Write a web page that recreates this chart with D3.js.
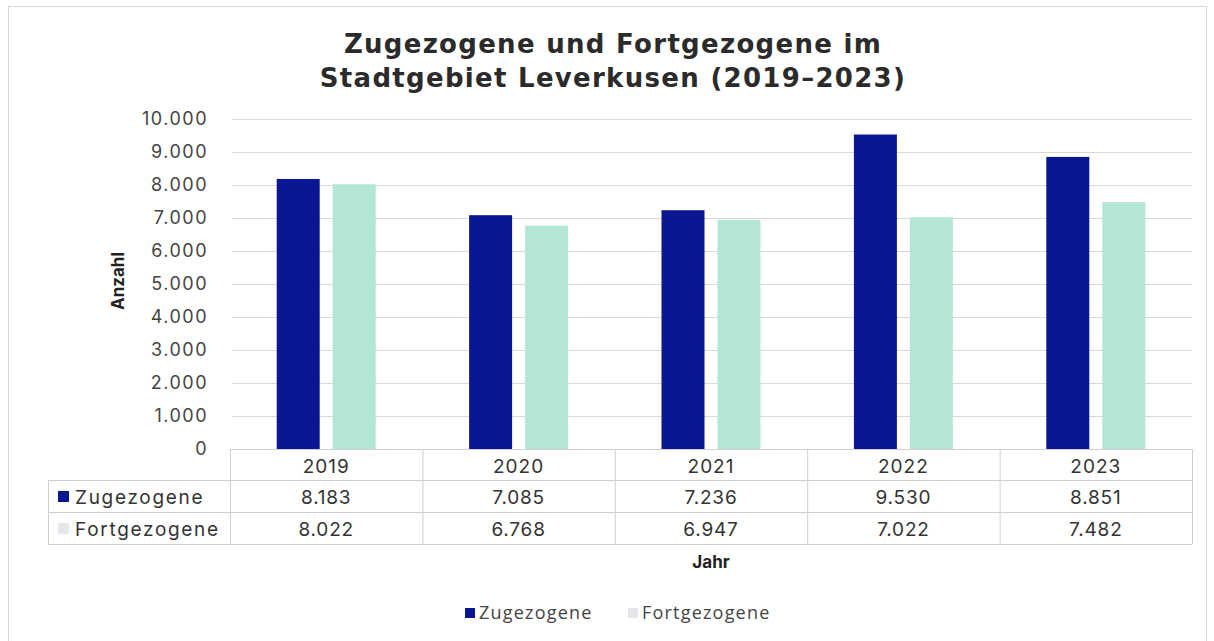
<!DOCTYPE html>
<html>
<head>
<meta charset="utf-8">
<script src="https://cdn.jsdelivr.net/npm/d3@7"></script>
<style>
body { margin:0; background:#fff; }
text { font-family: "Inter", "Noto Sans", sans-serif; }
</style>
</head>
<body>
<svg></svg>
<script>
var screen = {width:1214, height:641}
var margins = {top:119, right:22, left:230, bottom:192}

var years = ["2019", "2020", "2021", "2022", "2023"]
var zugezogene = [8183, 7085, 7236, 9530, 8851]
var fortgezogene = [8022, 6768, 6947, 7022, 7482]
var yTicks = [0, 1000, 2000, 3000, 4000, 5000, 6000, 7000, 8000, 9000, 10000]
var seriesNames = ["Zugezogene", "Fortgezogene"]
var colors = ["#0b1691", "#b3e6d7"]

var fmt = function(v) {
    return d3.format(",")(v).replace(/,/g, ".")
}

var svg = d3.select("svg")
    .attr("width", screen.width)
    .attr("height", screen.height)

// frame
svg.append("rect")
    .attr("x", 8.5).attr("y", 6.5)
    .attr("width", 1198).attr("height", 640)
    .attr("fill", "none")
    .attr("stroke", "#d6d6d6")

// title
var title = svg.append("text")
    .attr("text-anchor", "middle")
    .attr("font-size", 26)
    .attr("font-weight", "bold")
    .attr("letter-spacing", 1.3)
    .style("font-family", "'DejaVu Sans', sans-serif")
    .attr("fill", "#2b2b2b")
title.append("tspan").attr("x", 613).attr("y", 53).text("Zugezogene und Fortgezogene im")
title.append("tspan").attr("x", 613).attr("y", 87).text("Stadtgebiet Leverkusen (2019–2023)")

var plotW = screen.width - margins.left - margins.right
var plotBottom = 449

var x = d3.scaleBand()
    .domain(years)
    .range([margins.left, margins.left + plotW])

var y = d3.scaleLinear()
    .domain([0, 10000])
    .range([plotBottom, margins.top])

// gridlines
svg.append("g")
    .selectAll("line")
    .data(yTicks)
    .enter()
    .append("line")
    .attr("x1", margins.left + 2)
    .attr("x2", margins.left + plotW)
    .attr("y1", function(d){ return y(d) + 0.5 })
    .attr("y2", function(d){ return y(d) + 0.5 })
    .attr("stroke", "#d9d9d9")

// y axis labels
var yAxis = svg.append("g")
    .attr("transform", "translate(" + (margins.left - 22) + ",0)")
    .call(d3.axisLeft(y).tickValues(yTicks).tickFormat(fmt).tickSize(0).tickPadding(0))
yAxis.select(".domain").remove()
yAxis.selectAll("text")
    .attr("font-size", 18)
    .attr("letter-spacing", 1.5)
    .attr("fill", "#444")
    .style("font-family", "Inter, sans-serif")

svg.append("text")
    .attr("transform", "translate(124,281) rotate(-90)")
    .attr("text-anchor", "middle")
    .attr("font-size", 17)
    .attr("font-weight", "bold")
    .attr("fill", "#222")
    .text("Anzahl")

// bars
var barW = 43
var gap = 13
var series = [zugezogene, fortgezogene]
series.forEach(function(vals, s) {
    svg.append("g")
        .selectAll("rect")
        .data(vals)
        .enter()
        .append("rect")
        .attr("x", function(d, i){
            var c = x(years[i]) + x.bandwidth() / 2
            return s == 0 ? c - gap / 2 - barW : c + gap / 2
        })
        .attr("y", function(d){ return y(d) })
        .attr("width", barW)
        .attr("height", function(d){ return plotBottom - y(d) })
        .attr("fill", colors[s])
})

// data table
var rowY = [449, 480, 512, 544]
var tableLeft = 48
var tbl = svg.append("g").attr("stroke", "#cfcfcf").attr("fill", "none")
tbl.append("line").attr("x1", margins.left).attr("x2", margins.left + plotW).attr("y1", rowY[0] + 0.5).attr("y2", rowY[0] + 0.5)
for (var r = 1; r < rowY.length; r++) {
    tbl.append("line").attr("x1", tableLeft).attr("x2", margins.left + plotW).attr("y1", rowY[r] + 0.5).attr("y2", rowY[r] + 0.5)
}
tbl.append("line").attr("x1", tableLeft + 0.5).attr("x2", tableLeft + 0.5).attr("y1", rowY[1]).attr("y2", rowY[3])
years.forEach(function(yr) {
    tbl.append("line").attr("x1", x(yr) + 0.5).attr("x2", x(yr) + 0.5).attr("y1", rowY[0]).attr("y2", rowY[3])
})
tbl.append("line").attr("x1", margins.left + plotW + 0.5).attr("x2", margins.left + plotW + 0.5).attr("y1", rowY[0]).attr("y2", rowY[3])

svg.append("g")
    .selectAll("text")
    .data(years)
    .enter()
    .append("text")
    .attr("x", function(d){ return x(d) + x.bandwidth() / 2 })
    .attr("y", rowY[0] + 24)
    .attr("text-anchor", "middle")
    .attr("font-size", 19)
    .attr("letter-spacing", 1)
    .attr("fill", "#333")
    .text(function(d){ return d })

series.forEach(function(vals, s) {
    var ty = rowY[s + 1] + 24
    svg.append("rect")
        .attr("x", 58).attr("y", ty - 13)
        .attr("width", 11).attr("height", 11)
        .attr("fill", s == 0 ? colors[0] : "#e4e6ea")
    svg.append("text")
        .attr("x", 75).attr("y", ty)
        .attr("font-size", 19)
        .attr("letter-spacing", 1.7)
        .attr("fill", "#333")
        .text(seriesNames[s])
    svg.append("g")
        .selectAll("text")
        .data(vals)
        .enter()
        .append("text")
        .attr("x", function(d, i){ return x(years[i]) + x.bandwidth() / 2 })
        .attr("y", ty)
        .attr("text-anchor", "middle")
        .attr("font-size", 19)
        .attr("letter-spacing", 0.8)
        .attr("fill", "#333")
        .text(fmt)
})

svg.append("text")
    .attr("x", 711).attr("y", 568)
    .attr("text-anchor", "middle")
    .attr("font-size", 17)
    .attr("font-weight", "bold")
    .attr("fill", "#222")
    .text("Jahr")

// legend
var legX = [465, 628]
seriesNames.forEach(function(n, s) {
    svg.append("rect")
        .attr("x", legX[s]).attr("y", 608)
        .attr("width", 10).attr("height", 10)
        .attr("fill", s == 0 ? colors[0] : "#e4e6ea")
    svg.append("text")
        .attr("x", legX[s] + 14).attr("y", 619)
        .attr("font-size", 18)
        .attr("letter-spacing", 1.2)
        .style("font-family", "'Open Sans', sans-serif")
        .attr("fill", "#444")
        .text(n)
})
</script>
</body>
</html>
